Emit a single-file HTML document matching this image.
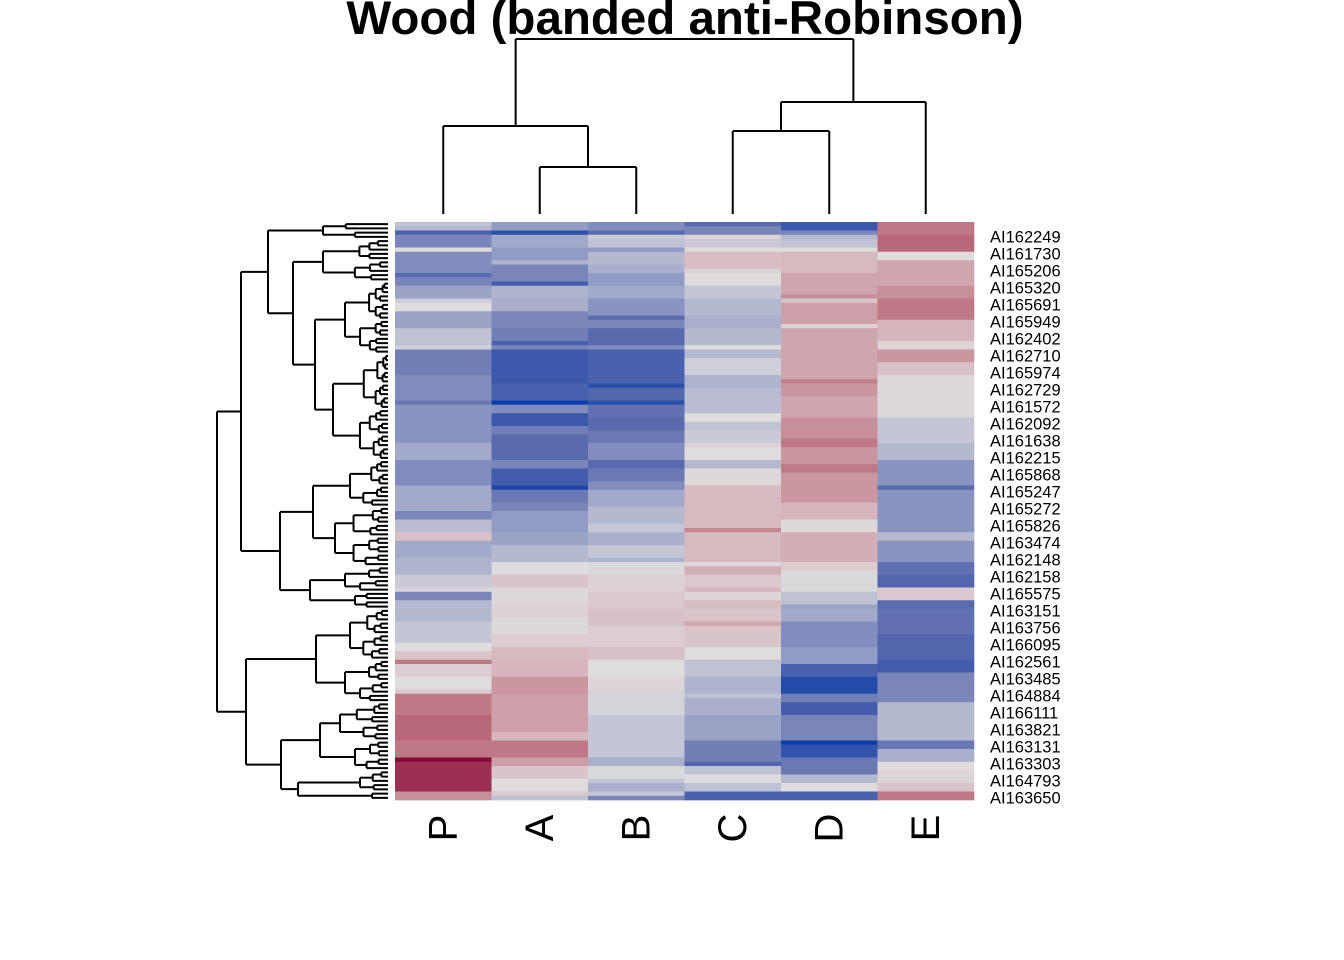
<!DOCTYPE html>
<html><head><meta charset="utf-8"><style>
html,body{margin:0;padding:0;background:#fff;}
svg{display:block;font-family:"Liberation Sans",sans-serif;}
</style></head><body>
<svg id="chart" width="1344" height="960" viewBox="0 0 1344 960">
<text x="685" y="34" text-anchor="middle" font-size="47.5" font-weight="bold">Wood (banded anti-Robinson)</text>
<g id="cells"></g>
<g id="coldend"></g>
<g id="rowdend"></g>
<g id="collabels"></g>
<g id="rowlabels"></g>
</svg>
<script>
const columns = ["P","A","B","C","D","E"];
const geneLabels = ["AI162249","AI161730","AI165206","AI165320","AI165691","AI165949","AI162402","AI162710","AI165974","AI162729","AI161572","AI162092","AI161638","AI162215","AI165868","AI165247","AI165272","AI165826","AI163474","AI162148","AI162158","AI165575","AI163151","AI163756","AI166095","AI162561","AI163485","AI164884","AI166111","AI163821","AI163131","AI163303","AI164793","AI163650"];
const valsP = [-0.6,-0.8,-2.2,-1.6,-1.6,-1.6,0,-1.5,-1.5,-1.5,-1.5,-1.5,-2,-1.6,-1.6,-1.2,-1.2,-1.2,-0.3,0,0,-1.2,-1.2,-1.2,-1.2,-0.6,-0.6,-0.6,-0.6,-0.3,
-1.7,-1.7,-1.7,-1.7,-1.7,-1.7,-1.5,-1.5,-1.5,-1.5,-1.5,-1.5,-1.8,-1.4,-1.4,-1.4,-1.4,-1.4,-1.4,-1.4,-1.4,-1.4,-1.1,-1.1,-1.1,-1.1,-1.5,-1.5,-1.5,-1.5,
-1.5,-1.5,-1.1,-1.1,-1.1,-1.1,-1.1,-1.1,-1.6,-1.6,-0.7,-0.7,-0.7,0.7,0.7,-1.1,-1.1,-1.1,-1.1,-0.9,-0.9,-0.9,-0.9,-0.4,-0.4,-0.4,0.2,-1.6,-1.6,-0.8,
-0.8,-0.8,-0.8,-0.8,-0.5,-0.5,-0.5,-0.5,-0.5,0,0,0.6,0.6,1.8,0.4,0.4,0.4,0,0,0,0.5,1.8,1.8,1.8,1.8,1.8,2.0,2.0,2.0,2.0,
2.0,2.0,1.8,1.8,1.8,1.8,3,2.6,2.6,2.6,2.6,2.6,2.6,2.6,1.5,1.5];
const valsA = [-1.3,-1.3,-2.6,-1.1,-1.1,-1.1,-1.3,-1.3,-1.3,-0.9,-1.6,-1.6,-1.6,-1.6,-2.3,-0.9,-0.9,-0.9,-1.0,-1.0,-1.0,-1.6,-1.6,-1.6,-1.6,-1.7,-1.7,-1.7,-2.2,-1.6,
-2.4,-2.4,-2.4,-2.4,-2.4,-2.4,-2.4,-2.4,-2.2,-2.2,-2.2,-2.2,-3,-1.5,-1.5,-2.4,-2.4,-2.4,-1.7,-1.7,-2.0,-2.0,-2.0,-2.0,-2.0,-2.0,-1.6,-1.6,-2.3,-2.3,
-2.3,-2.3,-2.8,-1.8,-1.8,-1.8,-1.6,-1.6,-1.3,-1.3,-1.3,-1.3,-1.3,-1.2,-1.2,-1.2,-0.8,-0.8,-0.8,-0.8,0,0,0,0.6,0.6,0.6,0.1,0.1,0.1,0.1,
0.3,0.3,0.3,0.1,0.1,0.1,0.1,0.4,0.4,0.4,0.9,0.9,0.9,1.0,1.0,1.0,1.0,1.4,1.4,1.4,1.4,1.3,1.3,1.3,1.3,1.3,1.3,1.3,1.3,1.3,
1.0,1.0,1.8,1.8,1.8,1.8,1.3,1.3,0.6,0.6,0.6,0,0,0,0.5,-0.6];
const valsB = [-1.5,-1.5,-2.0,-0.4,-0.6,-0.6,-1.3,-0.8,-0.8,-0.8,-1.0,-1.0,-1.3,-1.3,-1.3,-1.1,-1.1,-1.1,-1.4,-1.4,-1.4,-1.4,-2.0,-1.6,-1.6,-2.0,-2.0,-2.0,-2.0,-1.5,
-2.2,-2.2,-2.2,-2.2,-2.2,-2.2,-2.2,-2.2,-2.6,-2.1,-2.1,-2.1,-2.6,-1.9,-1.9,-1.9,-2.0,-2.0,-2.0,-1.8,-1.8,-1.8,-1.5,-1.5,-1.5,-1.5,-2.0,-2.0,-1.8,-1.8,
-1.8,-1.5,-1.5,-1.1,-1.1,-1.1,-1.1,-0.8,-0.8,-0.8,-0.8,-0.5,-0.5,-1.0,-1.0,-1.0,-0.5,-0.5,-0.5,-0.9,-0.1,-0.1,-0.1,0.3,0.3,0.3,0.3,0.5,0.5,0.5,
0.5,0.7,0.7,0.7,0.7,0.4,0.4,0.4,0.4,0.4,0.7,0.7,0.7,0,0,0,0,0.2,0.2,0.2,-0.2,-0.2,-0.2,-0.2,-0.2,-0.2,-0.5,-0.5,-0.5,-0.5,
-0.5,-0.5,-0.5,-0.5,-0.5,-0.5,-1.0,-1.0,-0.1,-0.1,-0.1,-0.5,-1.0,-1.0,-0.5,-1.6];
const valsC = [-2.0,-1.6,-1.6,0.2,-0.4,-0.4,0,0.8,0.8,0.8,0.8,0.3,0,0,0,-0.5,-0.5,-0.5,-0.8,-0.8,-0.8,-0.8,-1.0,-1.0,-1.0,-0.8,-0.8,-0.8,-0.8,0,
-0.8,-0.8,-0.3,-0.3,-0.3,-0.3,-0.9,-0.9,-0.9,-0.7,-0.7,-0.7,-0.7,-0.7,-0.7,0,0,-0.6,-0.6,-0.4,-0.4,-0.4,0.3,0,0,0,-0.8,-0.8,0.1,0.1,
0.1,0.1,0.9,0.9,0.9,0.9,0.9,0.9,0.9,0.9,0.9,0.9,1.6,0.9,0.9,0.9,0.9,0.9,0.9,0.9,0.1,1.1,1.1,0.5,0.5,0.5,1.0,0.2,0.2,0.8,
0.8,0.6,0.6,0.6,1.2,0.6,0.6,0.6,0.6,0.6,0,0,0,-0.6,-0.6,-0.6,-0.6,-0.9,-0.9,-0.9,-0.9,-0.6,-1.0,-1.0,-1.0,-1.0,-1.2,-1.2,-1.2,-1.2,
-1.2,-1.2,-1.7,-1.7,-1.7,-1.7,-1.7,-2.1,-0.6,-0.6,0,0,-0.6,-0.6,-2.2,-2.2];
const valsD = [-2.4,-2.4,-1.6,-0.8,-0.6,-0.6,0,0.9,0.9,0.9,0.9,0.9,1.2,1.2,1.2,1.2,1.2,1.5,0.6,1.3,1.3,1.3,1.3,1.3,0.3,1.2,1.2,1.2,1.2,1.2,
1.2,1.2,1.2,1.2,1.2,1.2,1.2,1.7,1.4,1.4,1.4,1.2,1.2,1.2,1.2,1.2,1.5,1.5,1.5,1.5,1.5,1.8,1.8,1.4,1.4,1.4,1.4,1.8,1.8,1.4,
1.4,1.4,1.4,1.4,1.4,1.4,1.0,1.0,1.0,1.0,0.1,0.1,0.1,1.1,1.1,1.1,1.1,1.1,1.1,1.1,0.4,0.4,-0.1,-0.1,-0.1,-0.1,-0.1,-0.6,-0.6,-0.6,
-1.2,-1.1,-1.1,-1.1,-1.5,-1.5,-1.5,-1.5,-1.5,-1.5,-1.3,-1.3,-1.3,-1.3,-2.2,-2.2,-2.2,-2.7,-2.7,-2.7,-2.7,-1.7,-1.7,-2.3,-2.3,-2.3,-1.6,-1.6,-1.6,-1.6,
-1.6,-1.6,-3,-2.5,-2.5,-2.5,-1.8,-1.8,-1.8,-1.8,-0.8,-0.8,0,0,-2.2,-2.2];
const valsE = [1.8,1.8,1.8,2.0,2.0,2.0,2.0,0,0,1.2,1.2,1.2,1.2,1.2,1.2,1.5,1.5,1.5,1.8,1.8,1.8,1.8,1.8,1.0,1.0,1.0,1.0,1.0,0.2,0.2,
1.4,1.4,1.4,0.7,0.7,0.7,0.1,0.1,0.1,0.1,0.1,0.1,0.1,0.1,0.1,0.1,-0.5,-0.5,-0.5,-0.5,-0.5,-0.5,-0.8,-0.8,-0.8,-0.8,-1.4,-1.4,-1.4,-1.4,
-1.4,-1.4,-2,-1.4,-1.4,-1.4,-1.4,-1.4,-1.4,-1.4,-1.4,-1.4,-1.4,-0.8,-0.8,-1.4,-1.4,-1.4,-1.4,-1.4,-1.9,-1.9,-1.9,-2.1,-2.1,-2.1,0.5,0.5,0.5,-2.0,
-2.0,-1.9,-1.9,-1.9,-1.9,-1.9,-1.9,-2.1,-2.1,-2.1,-2.1,-2.1,-2.1,-2.3,-2.3,-2.3,-1.6,-1.6,-1.6,-1.6,-1.6,-1.6,-1.6,-0.8,-0.8,-0.8,-0.8,-0.8,-0.8,-0.8,
-0.8,-0.8,-1.8,-1.8,-1.0,-1.0,-1.0,0,0,0.2,0.2,0.2,0.6,0.6,1.8,1.8];
const series = [valsP, valsA, valsB, valsC, valsD, valsE];

const NS = "http://www.w3.org/2000/svg";
const X0 = 395, X1 = 974, Y0 = 222, Y1 = 800;
const nRows = valsP.length;
const colW = (X1 - X0) / columns.length;
const rowH = (Y1 - Y0) / nRows;
const xCol = i => X0 + i * colW;
const yRow = i => Y0 + i * rowH;

const stops = [[-3,[12,62,168]],[-2,[90,106,174]],[-1,[170,176,204]],[0,[222,220,221]],[1,[214,182,188]],[2,[184,104,120]],[3,[138,8,56]]];
function color(v){
  v = Math.max(-3, Math.min(3, v));
  for (let k=0;k<stops.length-1;k++){
    const a=stops[k], b=stops[k+1];
    if (v>=a[0] && v<=b[0]){
      const t=(v-a[0])/(b[0]-a[0]);
      const c=a[1].map((x,j)=>Math.round(x+(b[1][j]-x)*t));
      return `rgb(${c[0]},${c[1]},${c[2]})`;
    }
  }
  return "#ddd";
}
function mk(tag, attrs, parent){
  const e=document.createElementNS(NS,tag);
  for (const k in attrs) e.setAttribute(k, attrs[k]);
  parent.appendChild(e); return e;
}

const cells = document.getElementById("cells");
series.forEach((vals, c) => {
  vals.forEach((v, r) => {
    const el = mk("rect", {x:xCol(c), y:yRow(r), width:colW+0.3, height:rowH+0.35, fill:color(v)}, cells);
    
    
  });
});

// column labels
const cl = document.getElementById("collabels");
columns.forEach((name, i) => {
  const cx = xCol(i) + colW/2 + 13;
  const t = mk("text", {x:cx, y:828, "font-size":40, "text-anchor":"middle", transform:`rotate(-90 ${cx} 828)`}, cl);
  
  
  t.textContent = name;
});

// row labels (every 4th row, starting at row 3)
const rl = document.getElementById("rowlabels");
geneLabels.forEach((g, k) => {
  const r = 3 + 4*k;
  const t = mk("text", {x:990, y:yRow(r)+rowH/2+5.5, "font-size":16.5}, rl);
  
  
  t.textContent = g;
});

// column dendrogram
const cd = document.getElementById("coldend");
function line(g, x1,y1,x2,y2){
  const l = mk("line",{x1,y1,x2,y2,stroke:"#000","stroke-width":2}, g);
  
  
}
const colTree = {h:39, c:[{h:126, c:[0,{h:167,c:[1,2]}]},{h:102,c:[{h:131,c:[3,4]},5]}]};
function drawCol(n){
  if (typeof n === "number") return {x:xCol(n)+colW/2, y:214};
  const a = drawCol(n.c[0]), b = drawCol(n.c[1]);
  line(cd, a.x, a.y, a.x, n.h); line(cd, b.x, b.y, b.x, n.h); line(cd, a.x, n.h, b.x, n.h);
  return {x:(a.x+b.x)/2, y:n.h};
}
drawCol(colTree);

// row dendrogram
const rd = document.getElementById("rowdend");
const LEAFX = 388;
function N(h, c){ return {h, c}; }
function C(lo, hi, h){
  if (lo === hi) return lo;
  const mid = Math.floor((lo+hi)/2);
  const step = (LEAFX - h) * 0.35;
  return N(h, [C(lo, mid, h+step*(1+((lo+hi)%3)*0.3)), C(mid+1, hi, h+step*(1+((hi)%2)*0.4))]);
}
const rowTree = N(217,[
  N(241,[
    N(268,[ C(0,3,323), N(293,[ C(4,13,323), N(315,[ C(14,30,345), C(31,55,333) ]) ]) ]),
    N(280,[ N(313,[C(56,66,350), C(67,80,335)]), N(310,[C(81,86,345), C(87,90,355)]) ])
  ]),
  N(246,[ N(316,[C(91,102,350), C(103,112,345)]), N(281,[ N(320,[C(113,121,340),C(122,128,355)]), N(298,[C(129,133,360),C(134,135,372)]) ]) ])
]);
function drawRow(n){
  if (typeof n === "number") return {y:yRow(n)+rowH/2, x:LEAFX};
  const a = drawRow(n.c[0]), b = drawRow(n.c[1]);
  const h = Math.min(n.h, LEAFX-2);
  line(rd, a.x, a.y, h, a.y); line(rd, b.x, b.y, h, b.y); line(rd, h, a.y, h, b.y);
  return {x:h, y:(a.y+b.y)/2};
}
drawRow(rowTree);
</script>
</body></html>
